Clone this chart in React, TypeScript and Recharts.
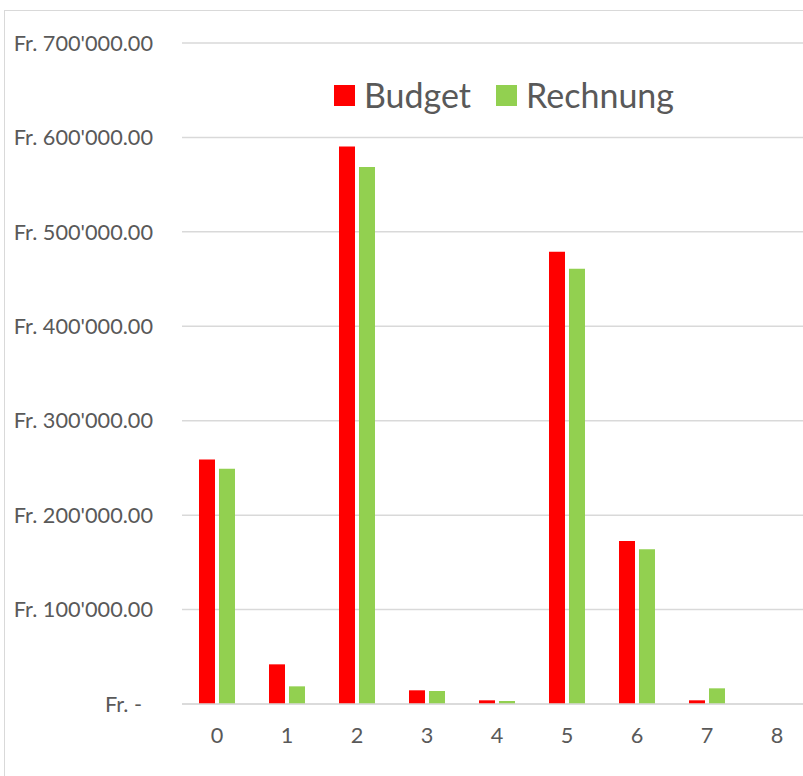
import React from 'react';
import { BarChart, Bar, XAxis, YAxis, CartesianGrid } from 'recharts';

const categories = ['0', '1', '2', '3', '4', '5', '6', '7', '8'];
const budget = [259000, 42000, 590500, 14500, 3900, 479000, 172500, 3900, 0];
const rechnung = [249000, 18700, 568700, 13800, 3200, 461000, 164000, 16600, 0];
const yTicks = [0, 100000, 200000, 300000, 400000, 500000, 600000, 700000];

const data = categories.map((c, i) => ({ cat: c, Budget: budget[i], Rechnung: rechnung[i] }));

const FONT = 'Lato, "Open Sans", sans-serif';
const TEXT = '#595959';

const fmt = (v: number) => {
  if (v === 0) return 'Fr. -';
  const whole = Math.round(v);
  const s = String(whole).replace(/\B(?=(\d{3})+(?!\d))/g, "'");
  return `Fr. ${s}.00`;
};

const YTick = (props: any) => {
  const { y, payload } = props;
  const v = payload.value as number;
  return (
    <text x={v === 0 ? 142 : 153} y={y} dy="0.355em" textAnchor="end" fill={TEXT} fontSize={21.7} fontFamily={FONT}>
      {fmt(v)}
    </text>
  );
};

const XTick = (props: any) => {
  const { x, payload } = props;
  return (
    <text x={x} y={743} textAnchor="middle" fill={TEXT} fontSize={21.7} fontFamily={FONT}>
      {payload.value}
    </text>
  );
};

export default function App() {
  return (
    <div style={{ position: 'fixed', left: 0, top: 0, width: 803, height: 776, overflow: 'hidden', background: '#fff' }}>
      <div style={{ position: 'absolute', left: 4, top: 10, width: 900, height: 900, border: '1px solid #d9d9d9', boxSizing: 'border-box' }} />
      <div style={{ position: 'absolute', left: 0, top: 0 }}>
        <BarChart width={830} height={776} data={data} margin={{ top: 43, right: 18, bottom: 0, left: 0 }} barSize={16} barGap={4}>
          <CartesianGrid vertical={false} stroke="#d9d9d9" strokeWidth={1.5} />
          <XAxis dataKey="cat" height={72} axisLine={{ stroke: '#d9d9d9', strokeWidth: 1.5 }} tickLine={false} tick={<XTick />} interval={0} />
          <YAxis width={182} domain={[0, 700000]} ticks={yTicks} axisLine={false} tickLine={false} tick={<YTick />} interval={0} />
          <Bar dataKey="Budget" fill="#FF0000" isAnimationActive={false} />
          <Bar dataKey="Rechnung" fill="#92D050" isAnimationActive={false} />
        </BarChart>
      </div>
      <div style={{ position: 'absolute', left: 334, top: 75, display: 'flex', alignItems: 'center', fontFamily: FONT, fontSize: 34, color: TEXT, lineHeight: '40px' }}>
        <span style={{ width: 21, height: 21, background: '#FF0000', display: 'inline-block', marginRight: 9 }} />
        <span>Budget</span>
        <span style={{ width: 21, height: 21, background: '#92D050', display: 'inline-block', marginLeft: 25, marginRight: 9 }} />
        <span>Rechnung</span>
      </div>
    </div>
  );
}
